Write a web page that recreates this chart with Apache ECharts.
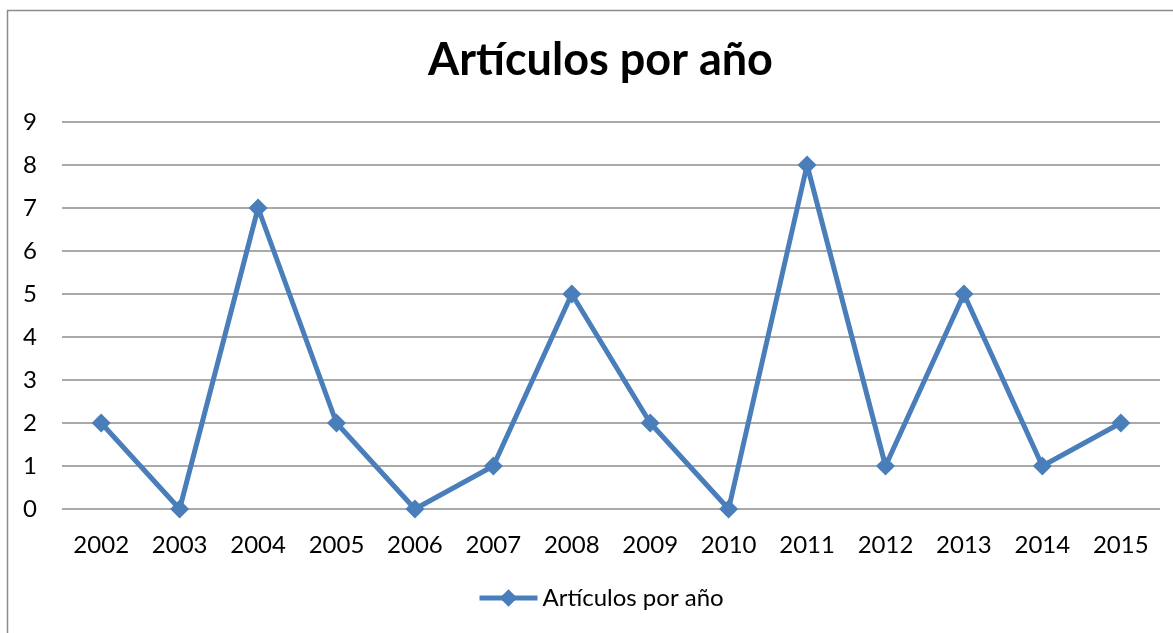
<!DOCTYPE html>
<html><head><meta charset="utf-8">
<script src="https://cdn.jsdelivr.net/npm/echarts@6/dist/echarts.min.js"></script>
<style>html,body{margin:0;padding:0;background:#fff}#c{width:1173px;height:633px}</style>
</head><body><div id="c"></div>
<script>
const years = ['2002','2003','2004','2005','2006','2007','2008','2009','2010','2011','2012','2013','2014','2015'];
const articles = [2,0,7,2,0,1,5,2,0,8,1,5,1,2];
const seriesName = 'Artículos por año';
const titleText = 'Artículos por año';
const FONT = 'Lato, "Open Sans", sans-serif';
const chart = echarts.init(document.getElementById('c'));
chart.setOption({
  animation: false,
  backgroundColor: '#fff',
  graphic: [{type:'rect', shape:{x:7.5,y:10.5,width:1200,height:700}, style:{fill:'none', stroke:'#8c8c8c', lineWidth:1.5}, silent:true}],
  title: {text: titleText, left: 423, top: 33, textStyle:{fontFamily:FONT, fontSize:45, fontWeight:'bold', color:'#000'}},
  grid: {left:62, right:13, top:122, bottom:124},
  legend: {top: 581, left: 472, itemWidth:58, itemHeight:22, itemGap:2,
    lineStyle:{width:5, color:'#4a7ebb'},
    textStyle:{fontFamily:FONT, fontSize:24, color:'#000'}, data:[seriesName]},
  xAxis: {type:'category', data: years, boundaryGap:true,
    axisLine:{show:false}, axisTick:{show:false},
    axisLabel:{fontFamily:FONT, fontSize:24, color:'#000', margin:24}},
  yAxis: {type:'value', min:0, max:9, interval:1,
    axisLine:{show:false}, axisTick:{show:false},
    axisLabel:{fontFamily:FONT, fontSize:24, color:'#000', margin:25},
    splitLine:{lineStyle:{color:'#8c8c8c', width:1.5}}},
  series: [{name: seriesName, type:'line', data: articles,
    symbol:'diamond', symbolSize:19,
    lineStyle:{color:'#4a7ebb', width:5},
    itemStyle:{color:'#4a7ebb'}}]
});
</script></body></html>
